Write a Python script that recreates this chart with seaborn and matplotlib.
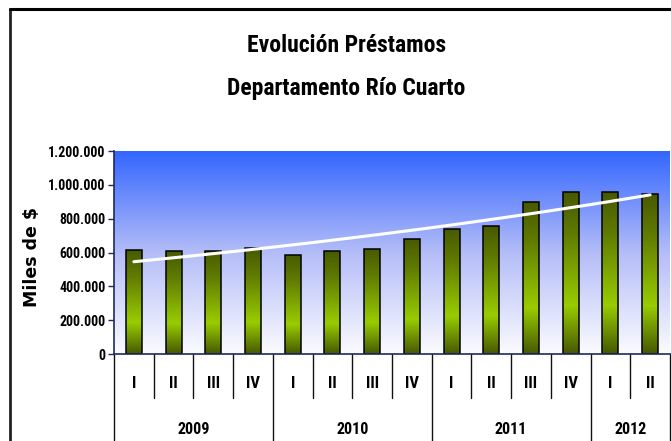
import matplotlib
matplotlib.use("Agg")
import matplotlib.pyplot as plt
import seaborn as sns
import numpy as np
import pandas as pd
from matplotlib.colors import LinearSegmentedColormap
from matplotlib.ticker import FuncFormatter

# data (miles de $)
years = ["2009", "2010", "2011", "2012"]
quarters_per_year = [4, 4, 4, 2]
quarters = ["I", "II", "III", "IV", "I", "II", "III", "IV", "I", "II", "III", "IV", "I", "II"]
prestamos = [616000, 608000, 610000, 626000, 586000, 608000, 622000,
             681000, 740000, 757000, 899000, 955000, 955000, 946000]

sns.set_style("white")
narrow = ["Liberation Sans Narrow", "Roboto Condensed", "Open Sans Condensed",
          "Liberation Sans", "DejaVu Sans"]
plt.rcParams["font.family"] = narrow
plt.rcParams["text.color"] = "black"
plt.rcParams["ytick.color"] = "black"
plt.rcParams["axes.labelcolor"] = "black"

df = pd.DataFrame({
    "periodo": [f"{q}-{k}" for k, q in enumerate(quarters)],
    "valor": prestamos,
})

fig = plt.figure(figsize=(6.71, 4.41), dpi=100)
ax = fig.add_axes([114 / 671, 1 - 354 / 441, (670 - 114) / 671, (354 - 151) / 441])

sns.barplot(data=df, x="periodo", y="valor", ax=ax, width=0.4,
            color="#99cc00", edgecolor="black", linewidth=1.1, zorder=3)

xlim = (-0.5, len(quarters) - 0.5)
ylim = (0, 1200000)

# background gradient blue -> white
bg_cmap = LinearSegmentedColormap.from_list("bg", ["#fbfbff", "#b4bdf8", "#3366ff"])
grad = np.linspace(0, 1, 256).reshape(-1, 1)
ax.imshow(grad, extent=[xlim[0], xlim[1], ylim[0], ylim[1]], origin="lower",
          aspect="auto", cmap=bg_cmap, zorder=0)

# bar gradient
bar_cmap = LinearSegmentedColormap.from_list(
    "bar", [(0, "#465800"), (0.3, "#99cc00"), (0.75, "#5f7a00"), (1, "#475900")])
for p in ax.patches:
    x0, w, h = p.get_x(), p.get_width(), p.get_height()
    im = ax.imshow(grad, extent=[x0, x0 + w, 0, h], origin="lower",
                   aspect="auto", cmap=bar_cmap, zorder=2)
    im.set_clip_path(p)
    p.set_facecolor("none")

# exponential trend line
xs = np.arange(len(prestamos))
b, a = np.polyfit(xs, np.log(prestamos), 1)
xt = np.linspace(0, len(prestamos) - 1, 100)
ax.plot(xt, np.exp(a + b * xt), color="white", lw=2.2, zorder=4)

ax.set_xlim(*xlim)
ax.set_ylim(*ylim)
ax.set_yticks(np.arange(0, 1200001, 200000))
ax.yaxis.set_major_formatter(FuncFormatter(lambda v, _: f"{int(v):,}".replace(",", ".")))
ax.tick_params(axis="y", left=True, length=4, width=1, color="#1f2a5a",
               labelsize=10, pad=2)
for lab in ax.get_yticklabels():
    lab.set_fontweight("bold")
ax.set_xticks([])
ax.set_xlabel("")
ax.set_ylabel("Miles de $", fontsize=12.5, fontweight="bold", family="DejaVu Sans",
              labelpad=0)
ax.yaxis.set_label_coords(-0.131, 0.478)
for s in ["top", "right"]:
    ax.spines[s].set_visible(False)
for s in ["left", "bottom"]:
    ax.spines[s].set_color("#1f2a5a")
    ax.spines[s].set_linewidth(1.2)
    ax.spines[s].set_zorder(5)

# two-level category axis
tr = ax.get_xaxis_transform()
row1 = -44 / 203
row2 = -90 / 203
bounds = np.cumsum([0] + quarters_per_year)
for k in range(len(quarters) + 1):
    yb = row2 if k in bounds else row1
    ax.plot([k - 0.5, k - 0.5], [0, yb], transform=tr, color="#111111",
            lw=1, clip_on=False)
for k, q in enumerate(quarters):
    ax.text(k, -29 / 203, q, transform=tr, ha="center", va="center",
            fontsize=12, fontweight="bold")
for yr, s, n in zip(years, bounds[:-1], quarters_per_year):
    ax.text(s + n / 2 - 0.5, -76 / 203, yr, transform=tr, ha="center",
            va="center", fontsize=11.5, fontweight="bold")

# titles
fig.text(0.516, 1 - 45 / 441, "Evolución Préstamos", ha="center", va="center",
         fontsize=17, fontweight="bold")
fig.text(0.516, 1 - 88 / 441, "Departamento Río Cuarto", ha="center", va="center",
         fontsize=17, fontweight="bold")

# chart frame
fig.add_artist(plt.Line2D([10 / 671, 10 / 671], [0, 1 - 9 / 441], color="#222222", lw=2))
fig.add_artist(plt.Line2D([10 / 671, 1], [1 - 9 / 441, 1 - 9 / 441], color="black", lw=2.2))

fig.savefig("out.png", dpi=100)
